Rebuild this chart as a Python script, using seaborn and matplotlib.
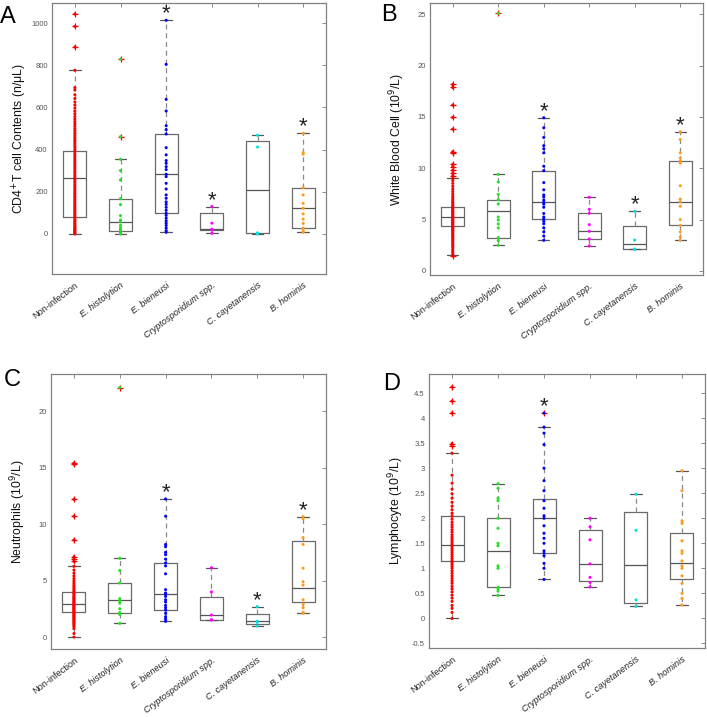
import matplotlib
matplotlib.use("Agg")
import matplotlib.pyplot as plt
import matplotlib.ticker as mticker
import pandas as pd
import seaborn as sns

# ---------------- data ----------------
groups = ["Non-infection", "E. histolytion", "E. bieneusi",
          "Cryptosporidium spp.", "C. cayetanensis", "B. hominis"]
group_colors = ["#ff0000", "#22e022", "#0000ff", "#ff00ff", "#00e0e0", "#ff9a1a"]

# Panel A: CD4+T cell contents
cd4_noninf = [0, 3, 6, 10, 14, 18, 22, 27, 31, 36, 41, 47, 52, 58, 63, 69, 76, 82, 88, 95,
              101, 108, 114, 121, 128, 135, 142, 149, 157, 164, 172, 179, 187, 194, 202, 210,
              218, 226, 234, 243, 251, 259, 268, 276, 285, 293, 302, 311, 319, 328, 337, 346,
              355, 364, 373, 382, 392, 401, 411, 420, 430, 440, 449, 459, 469, 479, 490, 500,
              511, 522, 533, 545, 556, 569, 582, 596, 611, 626, 642, 660, 682, 694, 776,
              886, 984, 1043]
cd4_ehist = [0, 3, 8, 14, 22, 30, 41, 57, 66, 87, 139, 167, 256, 300, 354, 461, 829]
cd4_ebien = [8, 15, 27, 40, 51, 62, 74, 88, 98, 112, 126, 140, 152, 169, 185, 213, 240, 272,
             283, 305, 319, 335, 348, 375, 409, 474, 495, 513, 583, 638, 804, 1013]
cd4_crypto = [3, 19, 22, 51, 130]
cd4_ccay = [0, 3, 5, 412, 468]
cd4_bhom = [8, 15, 27, 50, 70, 95, 122, 145, 185, 220, 378, 385, 477]
cd4_q1 = [79, 13, 98, 19, 3, 27]
cd4_med = [264, 57, 283, 22, 207, 122]
cd4_q3 = [392, 167, 474, 100, 439, 220]
cd4_wlo = [0, 0, 8, 3, 0, 8]
cd4_whi = [776, 354, 1013, 130, 468, 477]
cd4_out_group = [0, 0, 0, 1, 1]
cd4_out_value = [886, 984, 1043, 461, 829]
cd4_stars = [2, 3, 5]

# Panel B: white blood cell
wbc_noninf = [1.45, 1.6, 1.78, 1.95, 2.12, 2.3, 2.46, 2.6, 2.74, 2.88, 3.0, 3.14, 3.27, 3.39,
              3.5, 3.61, 3.73, 3.84, 3.93, 4.04, 4.14, 4.23, 4.33, 4.42, 4.51, 4.6, 4.69, 4.77,
              4.86, 4.94, 5.03, 5.11, 5.19, 5.27, 5.35, 5.44, 5.53, 5.62, 5.71, 5.8, 5.9, 6.0,
              6.11, 6.22, 6.35, 6.49, 6.63, 6.79, 6.95, 7.12, 7.31, 7.52, 7.74, 7.97, 8.24,
              8.52, 8.8, 9.01, 9.24, 9.5, 9.8, 10.15, 10.38, 11.5, 11.61, 13.81, 14.95, 16.15,
              17.87, 18.16]
wbc_ehist = [2.5, 2.95, 3.24, 4.18, 4.57, 4.96, 5.25, 6.52, 6.94, 7.46, 8.66, 9.4, 25.1]
wbc_ebien = [2.98, 3.4, 3.8, 4.2, 4.6, 4.85, 5.06, 5.25, 5.6, 6.2, 6.5, 6.68, 6.9, 7.2, 7.4,
             7.9, 8.6, 9.76, 10.2, 11.5, 11.9, 12.2, 13.0, 13.94, 14.92]
wbc_crypto = [2.43, 3.11, 3.86, 4.5, 5.61, 6.0, 7.17]
wbc_ccay = [2.1, 2.11, 3.0, 5.8]
wbc_bhom = [2.98, 3.3, 3.8, 4.44, 5.0, 6.3, 6.74, 7.0, 8.3, 10.5, 10.7, 11.0, 11.5, 12.8, 13.55]
wbc_q1 = [4.38, 3.24, 5.06, 3.11, 2.11, 4.44]
wbc_med = [5.25, 5.8, 6.68, 3.86, 2.59, 6.74]
wbc_q3 = [6.26, 6.94, 9.76, 5.61, 4.38, 10.7]
wbc_wlo = [1.56, 2.5, 2.98, 2.43, 2.1, 2.98]
wbc_whi = [9.01, 9.4, 14.92, 7.17, 5.8, 13.55]
wbc_out_group = [0, 0, 0, 0, 0, 0, 0, 0, 0, 0, 0, 0, 0, 1]
wbc_out_value = [1.45, 9.24, 9.5, 9.8, 10.15, 10.38, 11.5, 11.61, 13.81, 14.95, 16.15,
                 17.87, 18.16, 25.1]
wbc_stars = [2, 4, 5]

# Panel C: neutrophils
neut_noninf = [0.0, 0.31, 0.74, 0.92, 1.03, 1.14, 1.23, 1.33, 1.42, 1.51, 1.6, 1.69, 1.77,
               1.85, 1.93, 2.01, 2.09, 2.17, 2.24, 2.32, 2.4, 2.48, 2.56, 2.63, 2.71, 2.79,
               2.87, 2.95, 3.03, 3.12, 3.21, 3.3, 3.39, 3.48, 3.58, 3.68, 3.79, 3.9, 4.02,
               4.15, 4.29, 4.44, 4.6, 4.78, 4.97, 5.18, 5.41, 5.66, 5.94, 6.26, 6.7, 6.9, 7.1,
               8.6, 10.7, 12.2, 15.3, 15.4]
neut_ehist = [1.21, 2.0, 2.16, 2.5, 3.0, 3.2, 3.4, 4.79, 5.9, 6.97, 22.1]
neut_ebien = [1.39, 1.6, 1.8, 2.1, 2.39, 2.6, 2.8, 3.1, 3.3, 3.6, 3.81, 3.9, 4.2, 5.6, 6.3,
              6.56, 6.9, 7.3, 7.5, 8.0, 8.2, 10.7, 12.23]
neut_crypto = [1.5, 1.54, 1.95, 4.0, 6.14]
neut_ccay = [0.97, 1.3, 1.4, 2.69]
neut_bhom = [2.1, 2.2, 2.6, 2.9, 3.3, 4.6, 4.9, 6.1, 8.2, 8.8, 10.5, 10.66]
neut_q1 = [2.22, 2.16, 2.39, 1.54, 1.12, 3.1]
neut_med = [2.9, 3.28, 3.81, 1.95, 1.45, 4.31]
neut_q3 = [3.96, 4.79, 6.56, 3.52, 2.04, 8.48]
neut_wlo = [0.0, 1.21, 1.39, 1.5, 0.97, 2.1]
neut_whi = [6.26, 6.97, 12.23, 6.14, 2.69, 10.66]
neut_out_group = [0, 0, 0, 0, 0, 0, 0, 0, 1]
neut_out_value = [6.7, 6.9, 7.1, 8.6, 10.7, 12.2, 15.3, 15.4, 22.1]
neut_stars = [2, 4, 5]

# Panel D: lymphocyte
lym_noninf = [0.0, 0.12, 0.2, 0.26, 0.34, 0.41, 0.47, 0.53, 0.59, 0.64, 0.7, 0.75, 0.8, 0.85,
              0.9, 0.95, 1.0, 1.04, 1.08, 1.12, 1.16, 1.2, 1.24, 1.28, 1.32, 1.36, 1.4, 1.44,
              1.47, 1.51, 1.55, 1.59, 1.63, 1.67, 1.72, 1.77, 1.82, 1.87, 1.92, 1.98, 2.04,
              2.1, 2.17, 2.24, 2.32, 2.4, 2.49, 2.58, 2.7, 2.86, 3.3, 3.45, 3.49, 4.1, 4.34,
              4.62]
lym_ehist = [0.46, 0.55, 0.6, 0.62, 1.0, 1.05, 1.45, 1.5, 1.8, 2.0, 2.35, 2.4, 2.6, 2.69]
lym_ebien = [0.78, 1.0, 1.1, 1.25, 1.3, 1.35, 1.5, 1.6, 1.7, 1.85, 2.0, 2.05, 2.2, 2.35,
             2.55, 2.75, 3.0, 3.47, 3.7, 3.82, 4.1]
lym_crypto = [0.63, 0.72, 0.82, 1.09, 1.57, 1.83, 2.0]
lym_ccay = [0.24, 0.37, 1.76, 2.48]
lym_bhom = [0.27, 0.4, 0.5, 0.7, 0.85, 1.0, 1.05, 1.15, 1.3, 1.35, 1.55, 1.9, 1.95, 2.55, 2.95]
lym_q1 = [1.14, 0.62, 1.31, 0.74, 0.31, 0.78]
lym_med = [1.47, 1.35, 2.0, 1.09, 1.07, 1.1]
lym_q3 = [2.05, 2.0, 2.39, 1.77, 2.12, 1.71]
lym_wlo = [0.0, 0.46, 0.78, 0.63, 0.25, 0.27]
lym_whi = [3.3, 2.69, 3.82, 2.01, 2.48, 2.95]
lym_out_group = [0, 0, 0, 0, 0, 2]
lym_out_value = [3.45, 3.49, 4.1, 4.34, 4.62, 4.1]
lym_stars = [2]

# ---------------- style ----------------
sns.set_theme(style="white")
plt.rcParams["font.family"] = ["Liberation Sans", "DejaVu Sans"]

W, H = 707, 717
fig = plt.figure(figsize=(W / 100, H / 100), dpi=100)


def px_axes(l, t, r, b):
    return fig.add_axes([l / W, 1 - b / H, (r - l) / W, (b - t) / H])


panels = [
    dict(ax=px_axes(52, 3, 326, 274), letter="A", lpos=(0, 23),
         pts=[cd4_noninf, cd4_ehist, cd4_ebien, cd4_crypto, cd4_ccay, cd4_bhom],
         q1=cd4_q1, med=cd4_med, q3=cd4_q3, wlo=cd4_wlo, whi=cd4_whi,
         og=cd4_out_group, ov=cd4_out_value, stars=cd4_stars,
         ylim=(-190, 1095), yticks=[0, 200, 400, 600, 800, 1000],
         ylabel="CD4$^{+}$T cell Contents (n/μL)"),
    dict(ax=px_axes(430, 3, 703, 275), letter="B", lpos=(381, 21),
         pts=[wbc_noninf, wbc_ehist, wbc_ebien, wbc_crypto, wbc_ccay, wbc_bhom],
         q1=wbc_q1, med=wbc_med, q3=wbc_q3, wlo=wbc_wlo, whi=wbc_whi,
         og=wbc_out_group, ov=wbc_out_value, stars=wbc_stars,
         ylim=(-0.4, 26.1), yticks=[0, 5, 10, 15, 20, 25],
         ylabel="White Blood Cell (10$^{9}$/L)"),
    dict(ax=px_axes(51, 374, 326, 649), letter="C", lpos=(4, 386),
         pts=[neut_noninf, neut_ehist, neut_ebien, neut_crypto, neut_ccay, neut_bhom],
         q1=neut_q1, med=neut_med, q3=neut_q3, wlo=neut_wlo, whi=neut_whi,
         og=neut_out_group, ov=neut_out_value, stars=neut_stars,
         ylim=(-1.06, 23.3), yticks=[0, 5, 10, 15, 20],
         ylabel="Neutrophils (10$^{9}$/L)"),
    dict(ax=px_axes(429, 374, 705, 648), letter="D", lpos=(383, 390),
         pts=[lym_noninf, lym_ehist, lym_ebien, lym_crypto, lym_ccay, lym_bhom],
         q1=lym_q1, med=lym_med, q3=lym_q3, wlo=lym_wlo, whi=lym_whi,
         og=lym_out_group, ov=lym_out_value, stars=lym_stars,
         ylim=(-0.59, 4.88), yticks=[-0.5, 0, 0.5, 1, 1.5, 2, 2.5, 3, 3.5, 4, 4.5],
         ylabel="Lymphocyte (10$^{9}$/L)"),
]

palette = dict(zip(groups, group_colors))

for p in panels:
    ax = p["ax"]
    rows = [(g, v) for g, vals in zip(groups, p["pts"]) for v in vals]
    df = pd.DataFrame(rows, columns=["group", "value"])
    dfo = pd.DataFrame({"group": [groups[i] for i in p["og"]], "value": p["ov"]})

    # boxes (stats)
    stats = [dict(q1=p["q1"][i], med=p["med"][i], q3=p["q3"][i],
                  whislo=p["wlo"][i], whishi=p["whi"][i], fliers=[])
             for i in range(len(groups))]
    ax.bxp(stats, positions=range(len(groups)), widths=0.5, showfliers=False,
           manage_ticks=False, zorder=1,
           boxprops=dict(color="#6a6a6a", lw=0.9),
           medianprops=dict(color="#555555", lw=0.9),
           whiskerprops=dict(color="#8a8a8a", lw=0.9, ls=(0, (4, 3))),
           capprops=dict(color="#555555", lw=0.9))

    # outliers as red '+'
    sns.stripplot(data=dfo, x="group", y="value", order=groups, color="#ff0000",
                  marker="+", size=4.5, linewidth=0.9, jitter=False, ax=ax, zorder=3)
    # all data points
    sns.stripplot(data=df, x="group", y="value", order=groups, hue="group",
                  hue_order=groups, palette=palette, size=2.2, linewidth=0,
                  jitter=False, legend=False, ax=ax, zorder=4)

    # significance stars
    for i in p["stars"]:
        top = max(max(p["pts"][i]), p["whi"][i])
        ax.annotate("*", xy=(i, top), xytext=(0, 4.5), textcoords="offset points",
                    ha="center", va="center", fontsize=16, color="#222222")

    ax.set_xlim(-0.5, len(groups) - 0.5)
    ax.set_ylim(*p["ylim"])
    ax.set_yticks(p["yticks"])
    ax.yaxis.set_major_formatter(mticker.FuncFormatter(lambda v, _: f"{v:g}"))
    ax.set_xticks(range(len(groups)))
    ax.set_xticklabels(groups, rotation=37, ha="right", rotation_mode="anchor")
    for k, lab in enumerate(ax.get_xticklabels()):
        if k > 0:
            lab.set_fontstyle("italic")
    ax.set_xlabel("")
    ax.set_ylabel(p["ylabel"], fontsize=8.8, color="#111111")
    ax.yaxis.set_label_coords(-0.085, 0.5)
    ax.tick_params(direction="in", length=3, width=0.6, top=True, right=True,
                   color="#777777")
    ax.tick_params(axis="y", labelsize=5.5, labelcolor="#555555", pad=3)
    ax.tick_params(axis="x", labelsize=6.6, labelcolor="#222222", pad=5)
    for s in ax.spines.values():
        s.set_color("#808080")
        s.set_linewidth(0.9)
        s.set_visible(True)
    ax.set_facecolor("white")

    fig.text(p["lpos"][0] / W, 1 - p["lpos"][1] / H, p["letter"], fontsize=17,
             ha="left", va="baseline", color="black")

fig.savefig("out.png", dpi=100, facecolor="white")
